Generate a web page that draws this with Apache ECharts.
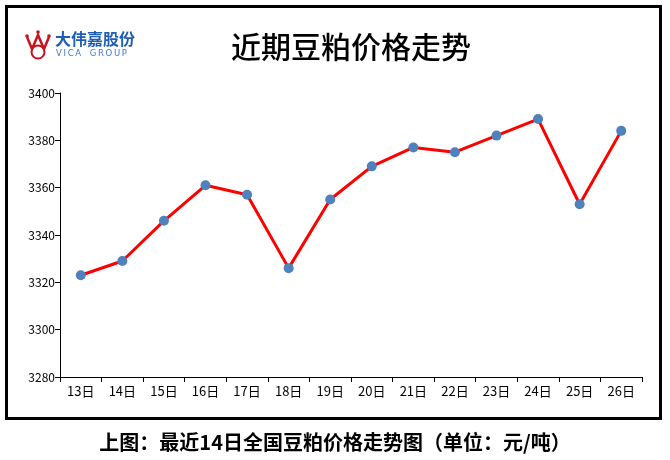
<!DOCTYPE html>
<html><head><meta charset="utf-8">
<script src="https://cdn.jsdelivr.net/npm/echarts@6/dist/echarts.min.js"></script>
<style>html,body{margin:0;padding:0;background:#fff}#c{width:670px;height:460px}</style>
</head><body><div id="c"></div>
<script>
const categories = ['13日','14日','15日','16日','17日','18日','19日','20日','21日','22日','23日','24日','25日','26日'];
const prices = [3323, 3329, 3346, 3361, 3357, 3326, 3355, 3369, 3377, 3375, 3382, 3389, 3353, 3384];
const titleText = '近期豆粕价格走势';
const captionText = '上图：最近14日全国豆粕价格走势图（单位：元/吨）';
const logoCn = '大伟嘉股份';
const logoEn = 'V\u2009I\u2009C\u2009A\u2003G\u2009R\u2009O\u2009U\u2009P';

const chart = echarts.init(document.getElementById('c'));
const font = '"Noto Sans CJK SC", sans-serif';
chart.setOption({
  animation: false,
  backgroundColor: '#fff',
  title: {
    text: titleText, left: 346, top: 27, textAlign: 'center',
    textStyle: {fontFamily: font, fontSize: 30, fontWeight: 500, color: '#000'}
  },
  grid: {left: 60, right: 28, top: 93, bottom: 83},
  xAxis: {
    type: 'category', data: categories, boundaryGap: true,
    axisLine: {lineStyle: {color: '#000', width: 1}},
    axisTick: {show: true, interval: 0, length: 5, lineStyle: {color: '#000'}},
    axisLabel: {interval: 0, color: '#000', fontSize: 13, fontFamily: font, margin: 8}
  },
  yAxis: {
    type: 'value', min: 3280, max: 3400, interval: 20,
    axisLine: {show: true, lineStyle: {color: '#000', width: 1}},
    axisTick: {show: true, length: 5, lineStyle: {color: '#000'}},
    splitLine: {show: false},
    axisLabel: {color: '#000', fontSize: 12, fontFamily: font, margin: 5, formatter: v => String(v)}
  },
  series: [{
    type: 'line', data: prices,
    symbol: 'circle', symbolSize: 10,
    lineStyle: {color: '#ff0000', width: 3},
    itemStyle: {color: '#4f81bd'}
  }],
  graphic: [
    {type: 'rect', shape: {x: 6.5, y: 6.5, width: 654, height: 412}, style: {fill: 'none', stroke: '#000', lineWidth: 3}, z: 10},
    {type: 'text', left: 'center', top: 432, style: {text: captionText, fontFamily: font, fontSize: 20, fontWeight: 'bold', fill: '#000'}},
    // logo crown
    {type: 'polyline', shape: {points: [[27,37],[32,49],[38,35],[44,49],[49,37]]}, style: {stroke: '#c8141e', lineWidth: 2.5, fill: 'none'}},
    {type: 'circle', shape: {cx: 27, cy: 36, r: 1.8}, style: {fill: '#c8141e'}},
    {type: 'circle', shape: {cx: 38, cy: 32, r: 1.8}, style: {fill: '#c8141e'}},
    {type: 'circle', shape: {cx: 49, cy: 36, r: 1.8}, style: {fill: '#c8141e'}},
    {type: 'circle', shape: {cx: 38, cy: 52, r: 6.5}, style: {fill: 'none', stroke: '#c8141e', lineWidth: 2}},
    {type: 'text', left: 55, top: 31, style: {text: logoCn, fontFamily: font, fontSize: 16, fontWeight: 'bold', fill: '#1f5cb4'}},
    {type: 'text', left: 56, top: 49, style: {text: logoEn, fontFamily: '"DejaVu Sans", sans-serif', fontSize: 8.5, fill: '#3d78c8'}}
  ]
});
</script></body></html>
